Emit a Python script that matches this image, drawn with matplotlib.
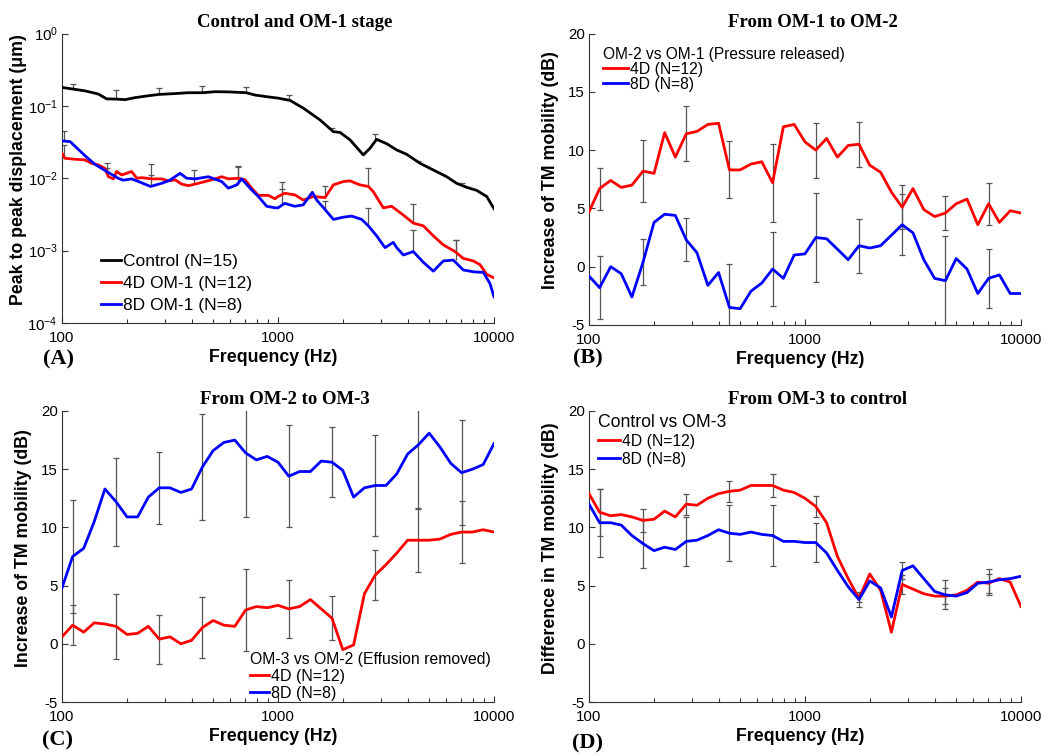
import numpy as np
import matplotlib
matplotlib.use('Agg')
import matplotlib.pyplot as plt
from matplotlib.ticker import LogLocator, NullFormatter, NullLocator

plt.rcParams['font.family'] = ['Liberation Sans', 'DejaVu Sans']
plt.rcParams['axes.unicode_minus'] = False
plt.rcParams['mathtext.default'] = 'regular'

RED = '#ff0000'
BLUE = '#0000ff'
BAR = '#555555'

# 1/6-octave frequency grid used in panels B-D
freqs = [100, 112, 126, 141, 158, 178, 200, 224, 251, 282, 316, 355, 398, 447,
         501, 562, 631, 708, 794, 891, 1000, 1122, 1259, 1413, 1585, 1778, 1995,
         2239, 2512, 2818, 3162, 3548, 3981, 4467, 5012, 5623, 6310, 7079, 7943,
         8913, 10000]

# panel A: displacement (um)
ctrl_f = [100, 112, 128, 147, 161, 178, 196, 218, 251, 282, 334, 385, 448, 511,
          589, 714, 783, 902, 1000, 1137, 1310, 1565, 1804, 1936, 2154, 2483,
          2667, 2862, 3185, 3543, 3942, 4543, 5238, 6040, 6718, 7472, 8312, 9248,
          10000]
ctrl_v = [0.180, 0.171, 0.161, 0.146, 0.125, 0.124, 0.122, 0.130, 0.138, 0.144,
          0.148, 0.152, 0.152, 0.157, 0.156, 0.152, 0.141, 0.133, 0.128, 0.119,
          0.093, 0.064, 0.044, 0.043, 0.034, 0.021, 0.026, 0.0345, 0.030, 0.0246,
          0.0214, 0.0161, 0.0130, 0.0105, 0.0085, 0.0075, 0.0068, 0.0056, 0.0038]

red_a_f = [100, 103, 115, 128, 137, 147, 158, 164, 173, 179, 189, 199, 210, 222,
           234, 260, 289, 311, 334, 358, 385, 413, 459, 511, 549, 589, 655, 704,
           755, 811, 902, 968, 1000, 1074, 1195, 1310, 1458, 1651, 1804, 2007,
           2154, 2397, 2620, 2764, 3074, 3360, 3803, 4231, 4708, 5238, 5827, 6598,
           7211, 8023, 8613, 9248, 10000]
red_a_v = [0.0221, 0.0189, 0.0183, 0.0179, 0.0161, 0.0153, 0.0137, 0.0105, 0.0098,
           0.0124, 0.0111, 0.0117, 0.0124, 0.0100, 0.0102, 0.0098, 0.0098, 0.0092,
           0.0095, 0.0083, 0.0079, 0.0083, 0.0090, 0.0098, 0.0105, 0.0098, 0.0100,
           0.0095, 0.0073, 0.0058, 0.0058, 0.0052, 0.0056, 0.0062, 0.0059, 0.0050,
           0.0056, 0.0054, 0.0081, 0.0090, 0.0092, 0.0081, 0.0077, 0.0065, 0.0039,
           0.0041, 0.0031, 0.0024, 0.0022, 0.0016, 0.0012, 0.00097, 0.00078,
           0.00072, 0.00064, 0.00047, 0.00042]

blue_a_f = [100, 109, 128, 142, 161, 182, 192, 210, 226, 257, 289, 316, 352, 378,
            413, 476, 549, 589, 644, 679, 755, 811, 886, 969, 1000, 1074, 1195,
            1310, 1442, 1510, 1651, 1804, 2007, 2193, 2439, 2620, 2862, 3129, 3420,
            3543, 3803, 4231, 4708, 5238, 5827, 6482, 7211, 8023, 8925, 9583, 10000]
blue_a_v = [0.0328, 0.0321, 0.0204, 0.0156, 0.0124, 0.0100, 0.0094, 0.0098, 0.0090,
            0.0077, 0.0085, 0.0094, 0.0117, 0.0100, 0.0098, 0.0105, 0.0090, 0.0073,
            0.0081, 0.0098, 0.0069, 0.0056, 0.0041, 0.0039, 0.0039, 0.0045, 0.0041,
            0.0043, 0.0064, 0.0050, 0.0037, 0.0027, 0.0029, 0.0030, 0.0027, 0.0022,
            0.0016, 0.0011, 0.0013, 0.0011, 0.00087, 0.00097, 0.00069, 0.00052,
            0.00072, 0.00074, 0.00054, 0.00051, 0.00050, 0.00035, 0.00023]

# panel A one-sided error bars (base on curve, top of bar)
ctrl_bar_f = [112, 178, 282, 447, 708, 1122, 1778, 2818, 4467, 7079]
ctrl_bar_lo = [0.171, 0.124, 0.144, 0.152, 0.152, 0.120, 0.046, 0.034, 0.016, 0.0078]
ctrl_bar_hi = [0.199, 0.164, 0.179, 0.188, 0.182, 0.141, 0.050, 0.041, 0.0173, 0.0085]
om1_bar_f = [102, 162, 258, 410, 650, 1040, 1650, 2620, 4200, 6650]
red_bar_lo = [0.0189, 0.0120, 0.0098, 0.0083, 0.0100, 0.0062, 0.0054, 0.0077, 0.0024, 0.00097]
red_bar_hi = [0.0288, 0.0164, 0.0110, 0.0098, 0.0141, 0.0090, 0.0077, 0.0137, 0.0044, 0.0014]
blue_bar_lo = [0.0325, 0.0124, 0.0077, 0.0098, 0.0081, 0.0045, 0.0037, 0.0022, 0.00097, 0.00074]
blue_bar_hi = [0.0450, 0.0140, 0.0158, 0.0130, 0.0148, 0.0071, 0.0048, 0.0039, 0.0019, 0.0014]

# panel B: OM-2 vs OM-1 (dB)
red_b = [4.7, 6.7, 7.4, 6.8, 7.0, 8.2, 8.0, 11.5, 9.4, 11.4, 11.6, 12.2, 12.3, 8.3,
         8.3, 8.8, 9.0, 7.2, 12.0, 12.2, 10.7, 10.0, 11.0, 9.4, 10.4, 10.5, 8.7,
         8.1, 6.4, 5.1, 6.7, 4.9, 4.3, 4.6, 5.4, 5.8, 3.6, 5.4, 3.8, 4.8, 4.6]
blue_b = [-0.8, -1.8, 0.0, -0.6, -2.6, 0.4, 3.8, 4.5, 4.4, 2.3, 1.2, -1.6, -0.5,
          -3.5, -3.6, -2.1, -1.4, -0.2, -1.0, 1.0, 1.1, 2.5, 2.4, 1.5, 0.6, 1.8,
          1.6, 1.8, 2.7, 3.6, 2.9, 0.6, -1.0, -1.2, 0.7, -0.2, -2.3, -1.0, -0.7,
          -2.3, -2.3]
red_b_err = [1.8, 2.65, 2.35, 2.45, 3.35, 2.35, 1.95, 1.9, 1.45, 1.8]
blue_b_err = [2.7, 2.0, 1.85, 3.7, 3.15, 3.8, 2.3, 2.6, 3.8, 2.5]

# panel C: OM-3 vs OM-2 (dB)
red_c = [0.6, 1.6, 1.0, 1.8, 1.7, 1.5, 0.8, 0.9, 1.5, 0.4, 0.6, 0.0, 0.3, 1.4,
         2.0, 1.6, 1.5, 2.9, 3.2, 3.1, 3.3, 3.0, 3.2, 3.8, 3.0, 2.2, -0.5, -0.1,
         4.3, 5.9, 6.8, 7.8, 8.9, 8.9, 8.9, 9.0, 9.4, 9.6, 9.6, 9.8, 9.6]
blue_c = [4.8, 7.5, 8.2, 10.5, 13.3, 12.2, 10.9, 10.9, 12.6, 13.4, 13.4, 13.0,
          13.3, 15.2, 16.6, 17.3, 17.5, 16.4, 15.8, 16.1, 15.6, 14.4, 14.8, 14.8,
          15.7, 15.6, 14.9, 12.6, 13.4, 13.6, 13.6, 14.6, 16.3, 17.1, 18.1, 16.9,
          15.5, 14.7, 15.0, 15.4, 17.2]
red_c_err = [1.72, 2.8, 2.1, 2.6, 3.5, 2.5, 1.9, 2.15, 2.72, 2.69]
blue_c_err = [4.86, 3.77, 3.08, 4.58, 5.5, 4.4, 3.0, 4.3, 5.45, 4.5]

# panel D: control vs OM-3 (dB)
red_d = [12.9, 11.3, 11.0, 11.1, 10.9, 10.6, 10.7, 11.4, 10.9, 12.0, 11.9, 12.5,
         12.9, 13.1, 13.2, 13.6, 13.6, 13.6, 13.2, 13.0, 12.5, 11.8, 10.4, 7.5,
         5.6, 3.9, 6.0, 4.6, 1.0, 5.1, 4.7, 4.3, 4.1, 4.1, 4.2, 4.6, 5.3, 5.2, 5.6,
         5.3, 3.2]
blue_d = [12.0, 10.4, 10.4, 10.2, 9.3, 8.6, 8.0, 8.3, 8.1, 8.8, 8.9, 9.3, 9.8,
          9.5, 9.4, 9.6, 9.4, 9.3, 8.8, 8.8, 8.7, 8.7, 7.8, 6.3, 4.9, 3.8, 5.4,
          4.8, 2.3, 6.3, 6.7, 5.6, 4.5, 4.2, 4.1, 4.4, 5.2, 5.3, 5.5, 5.6, 5.8]
red_d_err = [2.0, 1.0, 0.9, 0.9, 1.0, 0.9, 0.35, 0.85, 0.7, 0.8]
blue_d_err = [2.9, 2.05, 2.1, 2.4, 2.65, 1.7, 0.65, 0.75, 1.25, 1.1]

W, H = 1052, 756
fig = plt.figure(figsize=(W / 100, H / 100), dpi=100)


def panel(left, top, right, bottom):
    return fig.add_axes([left / W, 1 - bottom / H, (right - left) / W, (bottom - top) / H])


def style(ax, ylabel, title, title_x, ylab_x=-0.07):
    ax.set_xscale('log')
    ax.set_xlim(100, 10000)
    for s in ('top', 'right'):
        ax.spines[s].set_visible(False)
    for s in ('left', 'bottom'):
        ax.spines[s].set_linewidth(0.8)
        ax.spines[s].set_color('#333333')
    ax.set_xticks([100, 1000, 10000])
    ax.set_xticklabels(['100', '1000', '10000'])
    ax.xaxis.set_minor_locator(LogLocator(base=10, subs=np.arange(2, 10)))
    ax.xaxis.set_minor_formatter(NullFormatter())
    ax.yaxis.set_minor_locator(NullLocator())
    ax.tick_params(which='both', direction='in', labelsize=10.8, width=0.8,
                   pad=3, colors='#333333', labelcolor='black')
    ax.tick_params(axis='x', which='both', pad=6)
    ax.tick_params(which='major', length=4)
    ax.tick_params(which='minor', length=3)
    ax.set_xlabel('Frequency (Hz)', fontsize=12.8, fontweight='bold')
    ax.set_ylabel(ylabel, fontsize=12.8, fontweight='bold')
    ax.xaxis.set_label_coords(0.49, -0.09)
    ax.yaxis.set_label_coords(ylab_x, 0.53)
    ax.set_title(title, family='Liberation Serif', fontweight='bold',
                 fontsize=13.5, x=title_x, pad=5)


def sym_bars(ax, y, err):
    ax.errorbar(np.array(freqs)[1::4], np.array(y)[1::4], yerr=err, fmt='none',
                ecolor=BAR, elinewidth=0.9, capsize=2.5, capthick=0.9, zorder=1)


def up_bars(ax, f, lo, hi):
    ax.vlines(f, lo, hi, color=BAR, lw=0.9, zorder=1)
    ax.plot(f, hi, ls='none', marker='_', ms=5, mew=0.9, color=BAR, zorder=1)


axA = panel(62, 33.5, 494, 323)
axB = panel(589, 33.5, 1021, 325)
axC = panel(62, 411, 494, 702)
axD = panel(589, 411, 1021, 702)

# (A)
axA.set_yscale('log')
up_bars(axA, ctrl_bar_f, ctrl_bar_lo, ctrl_bar_hi)
up_bars(axA, om1_bar_f, red_bar_lo, red_bar_hi)
up_bars(axA, om1_bar_f, blue_bar_lo, blue_bar_hi)
axA.plot(ctrl_f, ctrl_v, color='black', lw=2, label='Control (N=15)', zorder=3)
axA.plot(red_a_f, red_a_v, color=RED, lw=2, label='4D OM-1 (N=12)', zorder=3)
axA.plot(blue_a_f, blue_a_v, color=BLUE, lw=2, label='8D OM-1 (N=8)', zorder=3)
axA.set_ylim(1e-4, 1)
axA.set_yticks([1e-4, 1e-3, 1e-2, 1e-1, 1])
style(axA, 'Peak to peak displacement (\u03bcm)', 'Control and OM-1 stage', 0.539,
      ylab_x=-0.082)
axA.yaxis.set_minor_locator(NullLocator())
axA.legend(loc='lower left', bbox_to_anchor=(0.09, 0.035), frameon=False,
           fontsize=12.5, handlelength=1.15, handletextpad=0.15,
           labelspacing=0.38, borderpad=0, borderaxespad=0)

# (B), (C), (D)
panels = [
    (axB, red_b, blue_b, red_b_err, blue_b_err, 'Increase of TM mobility (dB)',
     'From OM-1 to OM-2', 0.518),
    (axC, red_c, blue_c, red_c_err, blue_c_err, 'Increase of TM mobility (dB)',
     'From OM-2 to OM-3', 0.516),
    (axD, red_d, blue_d, red_d_err, blue_d_err, 'Difference in TM mobility (dB)',
     'From OM-3 to control', 0.528),
]
for ax, r, b, re, be, ylab, title, tx in panels:
    sym_bars(ax, r, re)
    sym_bars(ax, b, be)
    ax.plot(freqs, r, color=RED, lw=2, label='4D (N=12)', zorder=3)
    ax.plot(freqs, b, color=BLUE, lw=2, label='8D (N=8)', zorder=3)
    ax.set_ylim(-5, 20)
    ax.set_yticks([-5, 0, 5, 10, 15, 20])
    style(ax, ylab, title, tx)

axB.legend(title='OM-2 vs OM-1 (Pressure released)', title_fontsize=11.2,
           alignment='left', loc='upper left', bbox_to_anchor=(0.032, 0.955),
           frameon=False, fontsize=11.3, handlelength=1.6, handletextpad=0.1,
           labelspacing=0.0, borderpad=0, borderaxespad=0)
axC.legend(title='OM-3 vs OM-2 (Effusion removed)', title_fontsize=11.3,
           alignment='left', loc='lower left', bbox_to_anchor=(0.435, 0.005),
           frameon=False, fontsize=11.5, handlelength=1.2, handletextpad=0.1,
           labelspacing=0.12, borderpad=0, borderaxespad=0)
axD.legend(title='Control vs OM-3', title_fontsize=12.7,
           alignment='left', loc='upper left', bbox_to_anchor=(0.02, 0.99),
           frameon=False, fontsize=11.3, handlelength=1.45, handletextpad=0.1,
           labelspacing=0.18, borderpad=0, borderaxespad=0)

for txt, x, y in [('(A)', 43, 359), ('(B)', 573, 358), ('(C)', 42, 740), ('(D)', 572, 743)]:
    fig.text(x / W, 1 - y / H, txt, family='Liberation Serif', fontweight='bold',
             fontsize=16, ha='left', va='center')

fig.savefig('out.png', dpi=100)
